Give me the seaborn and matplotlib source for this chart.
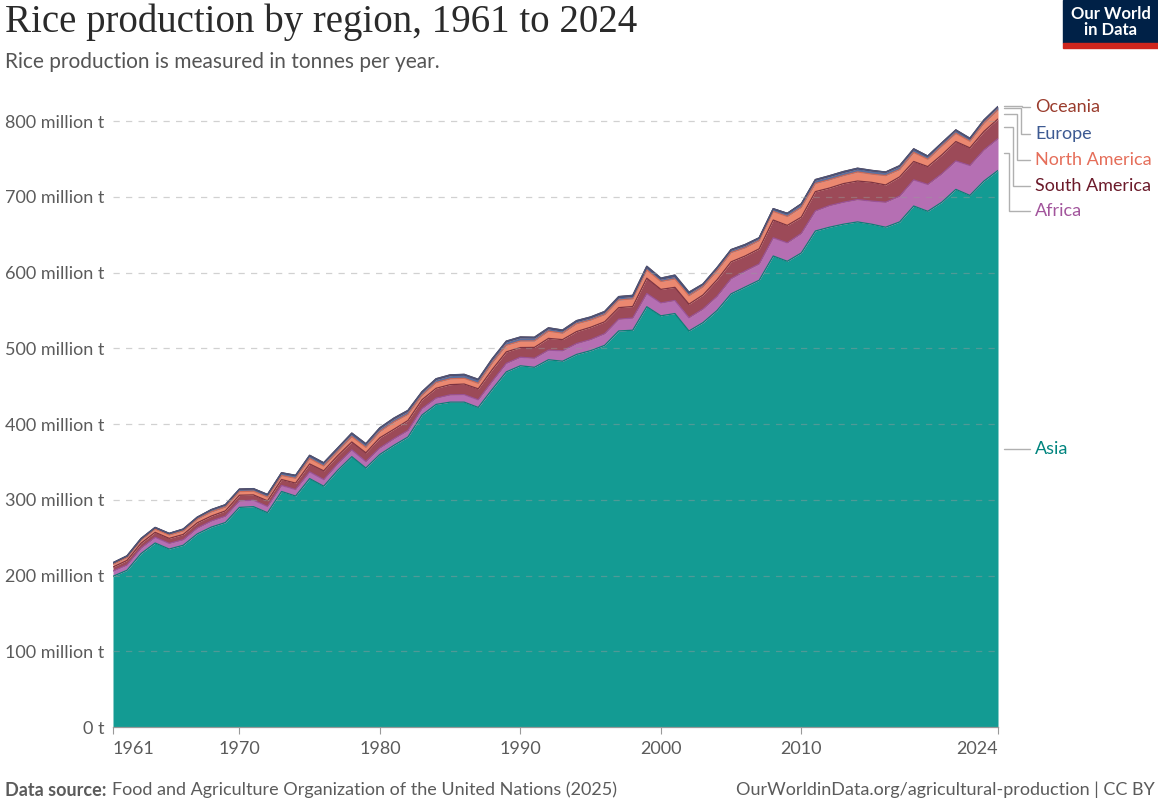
import numpy as np
import pandas as pd
import matplotlib
matplotlib.use("Agg")
import matplotlib.pyplot as plt
import seaborn as sns
from matplotlib.patches import Rectangle

# Rice production, million tonnes per year
years = list(range(1961, 2025))

asia = [199, 207, 229, 243, 235, 240, 255, 264, 270, 290,
        291, 283, 311, 305, 328, 318, 339, 357, 342, 360,
        372, 383, 412, 426, 429, 429, 422, 446, 469, 477,
        475, 485, 483, 492, 497, 504, 523, 524, 555, 543,
        546, 523, 534, 550, 572, 581, 590, 622, 615, 626,
        655, 660, 664, 667, 664, 660, 667, 688, 681, 693,
        710, 702, 721, 735]

africa = [6.9, 7.0, 7.3, 7.5, 7.5, 7.3, 7.6, 8.0, 8.4, 8.6,
          8.5, 8.2, 8.0, 8.6, 8.9, 8.7, 8.6, 8.9, 8.6, 8.5,
          8.7, 8.6, 8.4, 8.3, 9.6, 9.9, 10.1, 10.6, 11.2, 11.3,
          12.0, 12.7, 13.8, 14.4, 14.6, 15.4, 15.5, 16.1, 17.4, 17.0,
          17.3, 17.5, 18.0, 18.8, 20.0, 21.2, 21.5, 24.0, 24.4, 25.8,
          26.5, 28.5, 29.0, 29.5, 30.5, 33.0, 34.0, 34.5, 35.5, 37.5,
          37.5, 39.5, 41.0, 42.0]

south_america = [5.4, 6.0, 6.4, 6.6, 6.6, 7.0, 7.1, 6.6, 7.0, 7.5,
                 7.0, 7.5, 7.8, 8.5, 10.5, 11.6, 10.8, 10.5, 11.5, 13.5,
                 12.5, 13.2, 11.8, 13.0, 13.5, 14.0, 14.5, 15.5, 15.2, 12.8,
                 14.3, 15.5, 14.8, 15.8, 16.3, 15.7, 15.3, 15.2, 20.3, 17.9,
                 17.3, 17.9, 18.5, 21.7, 22.3, 19.8, 20.0, 23.5, 23.0, 21.5,
                 25.5, 23.2, 24.6, 24.5, 24.8, 22.8, 25.5, 24.3, 23.5, 25.0,
                 25.6, 23.3, 24.5, 26.0]

north_america = [3.6, 3.9, 4.1, 4.2, 4.3, 4.6, 4.7, 5.5, 5.0, 4.8,
                 4.9, 4.9, 5.3, 6.3, 7.2, 6.3, 5.6, 7.1, 7.2, 8.2,
                 9.8, 8.2, 5.9, 7.6, 7.7, 7.6, 7.3, 8.8, 8.8, 8.6,
                 8.5, 9.6, 8.4, 10.4, 9.5, 9.5, 10.0, 10.2, 11.0, 10.5,
                 11.1, 11.2, 10.8, 12.1, 12.3, 10.8, 10.9, 11.4, 11.8, 13.0,
                 10.8, 11.0, 10.6, 12.0, 10.9, 12.4, 9.7, 12.0, 9.8, 11.6,
                 10.9, 8.7, 11.0, 12.0]

europe = [1.8, 1.9, 1.9, 2.0, 2.0, 2.2, 2.4, 2.6, 2.8, 2.9,
          3.0, 3.1, 3.3, 3.5, 3.7, 3.8, 3.9, 4.0, 4.1, 4.2,
          4.1, 4.2, 4.1, 4.0, 4.2, 4.3, 4.4, 4.5, 4.4, 4.3,
          3.9, 3.3, 3.0, 2.9, 3.0, 3.1, 3.1, 3.1, 3.2, 3.2,
          3.2, 3.3, 3.2, 3.4, 3.4, 3.3, 3.4, 3.4, 4.0, 4.3,
          4.3, 4.3, 4.1, 4.0, 4.1, 4.3, 4.2, 4.0, 4.0, 4.1,
          4.0, 3.3, 3.5, 3.8]

oceania = [0.15, 0.17, 0.18, 0.2, 0.22, 0.25, 0.24, 0.3, 0.28, 0.26,
           0.27, 0.28, 0.3, 0.36, 0.4, 0.45, 0.5, 0.55, 0.6, 0.7,
           0.75, 0.85, 0.55, 0.9, 0.9, 0.8, 0.75, 0.8, 0.9, 0.95,
           0.9, 0.95, 1.1, 1.05, 1.0, 0.95, 1.4, 1.35, 1.4, 1.1,
           1.8, 1.2, 0.45, 0.55, 0.35, 1.0, 0.2, 0.03, 0.06, 0.2,
           0.74, 0.92, 1.16, 0.82, 0.69, 0.28, 0.81, 0.64, 0.07, 0.05,
           0.42, 0.6, 0.55, 0.6]

regions = ["Asia", "Africa", "South America", "North America", "Europe", "Oceania"]
fill_colors = ["#139b93", "#b56fb3", "#9c4a58", "#eb8870", "#5a6f9e", "#a04a3a"]
edge_colors = ["#0d7d76", "#9a5298", "#7d3341", "#cf6a55", "#40568a", "#7a3226"]
label_colors = ["#00847e", "#a2559c", "#6b1a2a", "#e56e5a", "#3d5a92", "#9a3c2d"]

y_ticks = [0, 100, 200, 300, 400, 500, 600, 700, 800]
y_tick_labels = ["0 t"] + [f"{v} million t" for v in y_ticks[1:]]
x_ticks = [1961, 1970, 1980, 1990, 2000, 2010, 2024]

df = pd.DataFrame({"year": years, "Asia": asia, "Africa": africa,
                   "South America": south_america, "North America": north_america,
                   "Europe": europe, "Oceania": oceania})

sns.set_theme(style="white")
plt.rcParams["font.family"] = ["Lato", "DejaVu Sans"]

fig = plt.figure(figsize=(11.58, 8.01), dpi=100)
ax = fig.add_axes([113 / 1158, 74 / 801, 885 / 1158, 627 / 801])

ax.stackplot(df["year"], *[df[r] for r in regions], colors=fill_colors,
             linewidth=0, zorder=2)

# edges on top of each layer
cum = df[regions].cumsum(axis=1)
for r, ec in zip(regions, edge_colors):
    sns.lineplot(x=df["year"], y=cum[r], ax=ax, color=ec, lw=0.9, zorder=3)
sns.lineplot(x=df["year"], y=cum["Oceania"], ax=ax, color="#4a5478", lw=1.1, zorder=4)

ax.set_xlim(1961, 2024)
ax.set_ylim(0, 828)
ax.set_xlabel("")
ax.set_ylabel("")

# dashed grid drawn over the areas
for v in y_ticks[1:]:
    ax.axhline(v, color="#9a9a9a", lw=0.9, ls=(0, (5, 5)), alpha=0.45, zorder=5)

ax.set_yticks(y_ticks)
ax.set_yticklabels(y_tick_labels)
ax.set_xticks(x_ticks)
ax.set_xticklabels([str(x) for x in x_ticks])
ax.tick_params(axis="y", length=0, pad=6, labelsize=13, labelcolor="#5b5b5b")
ax.tick_params(axis="x", length=5, width=0.8, color="#999999", direction="out",
               pad=5, labelsize=13, labelcolor="#5b5b5b", bottom=True)
xlabels = ax.get_xticklabels()
xlabels[0].set_ha("left")
xlabels[-1].set_ha("right")
for s in ["top", "right", "left"]:
    ax.spines[s].set_visible(False)
ax.spines["bottom"].set_color("#999999")
ax.spines["bottom"].set_linewidth(0.9)
ax.spines["bottom"].set_zorder(6)

# right-side labels with elbow connectors
ppy = 885 / 63.0          # pixels per year
ppm = 627 / 828.0         # pixels per million
def px_to_year(px):
    return 1961 + (px - 113) / ppy
def py_to_val(py):
    return (727 - py) / ppm

last = cum.iloc[-1]
bottoms = [0] + [last[r] for r in regions[:-1]]
mids = {r: (b + last[r]) / 2 for r, b in zip(regions, bottoms)}
label_py = {"Oceania": 107, "Europe": 133.5, "North America": 159.5,
            "South America": 185.5, "Africa": 211}
elbow_px = {"Oceania": 1022, "Europe": 1021, "North America": 1017,
            "South America": 1013, "Africa": 1009}
start_py = {"Oceania": 105.5, "Europe": 108, "North America": 114,
            "South America": 127, "Africa": 153}
lc = "#b0b0b0"
x0 = px_to_year(1004)
x_end = px_to_year(1030)
for r in ["Oceania", "Europe", "North America", "South America", "Africa"]:
    ys = py_to_val(start_py[r])
    yl = py_to_val(label_py[r])
    xe = px_to_year(elbow_px[r])
    ax.plot([x0, xe, xe, x_end], [ys, ys, yl, yl], color=lc, lw=1.0,
            clip_on=False, solid_joinstyle="miter")
    ax.text(px_to_year(1035), yl, r, color=label_colors[regions.index(r)],
            fontsize=13, va="center", ha="left", clip_on=False)
ax.plot([x0, x_end], [mids["Asia"], mids["Asia"]], color=lc, lw=1.0, clip_on=False)
ax.text(px_to_year(1035), mids["Asia"], "Asia", color=label_colors[0],
        fontsize=13, va="center", ha="left", clip_on=False)

# title, subtitle
fig.text(5 / 1158, 1 - 22 / 801, "Rice production by region, 1961 to 2024",
         family=["Liberation Serif", "DejaVu Serif"], fontsize=28,
         color="#2a2a2a", va="center", ha="left")
fig.text(5 / 1158, 1 - 62 / 801, "Rice production is measured in tonnes per year.",
         fontsize=15, color="#555555", va="center", ha="left")

# logo
fig.patches.append(Rectangle((1063 / 1158, 1 - 43 / 801), 95 / 1158, 43 / 801,
                             transform=fig.transFigure, color="#002147", zorder=10))
fig.patches.append(Rectangle((1063 / 1158, 1 - 48 / 801), 95 / 1158, 5 / 801,
                             transform=fig.transFigure, color="#ce261e", zorder=10))
fig.text(1111 / 1158, 1 - 22 / 801, "Our World\nin Data", color="white",
         fontsize=12, fontweight="bold", ha="center", va="center",
         linespacing=0.95, zorder=11)

# footer
fig.text(5 / 1158, 1 - 790 / 801, "Data source:", fontsize=13, fontweight="bold",
         color="#5b5b5b", va="center", ha="left")
fig.text(112 / 1158, 1 - 790 / 801,
         "Food and Agriculture Organization of the United Nations (2025)",
         fontsize=13, color="#5b5b5b", va="center", ha="left")
fig.text(1155 / 1158, 1 - 790 / 801,
         "OurWorldinData.org/agricultural-production | CC BY",
         fontsize=13, color="#5b5b5b", va="center", ha="right")

fig.savefig("out.png", dpi=100)
plt.close(fig)
